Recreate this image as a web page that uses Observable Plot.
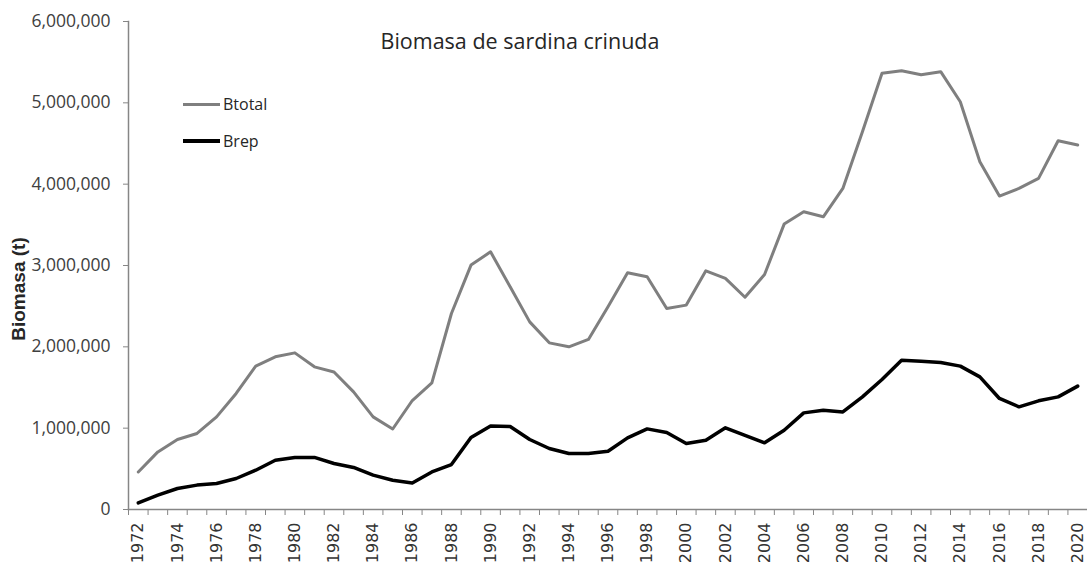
<!DOCTYPE html>
<html>
<head>
<meta charset="utf-8">
<script src="https://cdn.jsdelivr.net/npm/d3@7"></script>
<script src="https://cdn.jsdelivr.net/npm/@observablehq/plot@0.6"></script>
<style>
  html, body { margin: 0; padding: 0; background: #fff; overflow: hidden; }
  #wrap { position: relative; width: 1087px; height: 565px; overflow: hidden; }
  #title { position: absolute; left: 0; width: 1040px; top: 26px; text-align: center;
           font-family: "Open Sans", sans-serif; font-size: 21.5px; color: #262626; white-space: nowrap; }
  #ylabel { position: absolute; left: 19px; top: 289px; transform: translate(-50%, -50%) rotate(-90deg);
            font-family: "Liberation Sans", Arial, sans-serif; font-weight: bold; font-size: 19px; color: #262626; white-space: nowrap; }
  .leg { position: absolute; left: 183px; height: 16px; display: flex; align-items: center;
         font-family: "Open Sans", sans-serif; font-size: 16px; color: #262626; }
  .leg span.sw { display: inline-block; width: 37px; margin-right: 3px; }
  svg { overflow: hidden; }
</style>
</head>
<body>
<div id="wrap">
  <div id="chart"></div>
  <div id="title">Biomasa de sardina crinuda</div>
  <div id="ylabel">Biomasa (t)</div>
  <div id="legend"></div>
</div>
<script>
const years = [1972,1973,1974,1975,1976,1977,1978,1979,1980,1981,
               1982,1983,1984,1985,1986,1987,1988,1989,1990,1991,
               1992,1993,1994,1995,1996,1997,1998,1999,2000,2001,
               2002,2003,2004,2005,2006,2007,2008,2009,2010,2011,
               2012,2013,2014,2015,2016,2017,2018,2019,2020];

const btotal = [462000,708000,861000,935000,1139000,1427000,1763000,1877000,1926000,1754000,
                1690000,1446000,1139000,990000,1340000,1557000,2410000,3005000,3168000,2738000,
                2307000,2049000,2000000,2091000,2492000,2910000,2861000,2472000,2513000,2935000,
                2841000,2610000,2890000,3509000,3660000,3599000,3948000,4645000,5363000,5395000,
                5346000,5383000,5014000,4276000,3854000,3948000,4071000,4534000,4481000];

const brep = [81000,176000,258000,300000,320000,381000,483000,606000,640000,640000,
              566000,517000,422000,360000,327000,462000,553000,886000,1028000,1021000,
              861000,750000,689000,689000,717000,881000,991000,947000,812000,852000,
              1004000,910000,820000,975000,1188000,1221000,1200000,1385000,1599000,1836000,
              1824000,1808000,1763000,1631000,1365000,1262000,1336000,1385000,1517000];

const seriesNames = ["Btotal", "Brep"];
const seriesColors = ["#7f7f7f", "#000000"];
const seriesWidths = [3, 3.5];

const yTicks = [0, 1000000, 2000000, 3000000, 4000000, 5000000, 6000000];
const xLabelYears = [1972,1974,1976,1978,1980,1982,1984,1986,1988,1990,1992,1994,1996,1998,
                     2000,2002,2004,2006,2008,2010,2012,2014,2016,2018,2020];

const rowsTotal = years.map((y, i) => ({year: y, value: btotal[i]}));
const rowsRep = years.map((y, i) => ({year: y, value: brep[i]}));
const xEdges = years.map(y => y - 0.5).concat([years[years.length - 1] + 0.5]);

const axisGray = "#868686";

const chart = Plot.plot({
  width: 1087,
  height: 565,
  marginLeft: 128,
  marginRight: 0,
  marginTop: 21,
  marginBottom: 56,
  style: {background: "#fff", overflow: "hidden"},
  x: {type: "linear", domain: [years[0] - 0.5, years[years.length - 1] + 0.5]},
  y: {domain: [0, 6000000]},
  marks: [
    Plot.axisY({ticks: yTicks, tickFormat: d3.format(","), tickSize: 5, tickPadding: 13,
                label: null, color: "#404040", stroke: axisGray,
                fontFamily: "Open Sans", fontSize: 17.5}),
    Plot.axisX({ticks: xEdges, tickFormat: () => "", tickSize: 6, label: null, stroke: axisGray}),
    Plot.axisX({ticks: xLabelYears, tickFormat: d3.format("d"), tickSize: 0, tickPadding: 13,
                tickRotate: -90, label: null, color: "#333333",
                fontFamily: "DejaVu Sans", fontSize: 16}),
    Plot.frame({anchor: "left", stroke: axisGray, strokeWidth: 1.5}),
    Plot.frame({anchor: "bottom", stroke: axisGray, strokeWidth: 1.5}),
    Plot.line(rowsTotal, {x: "year", y: "value", stroke: seriesColors[0], strokeWidth: seriesWidths[0],
                          strokeLinejoin: "round"}),
    Plot.line(rowsRep, {x: "year", y: "value", stroke: seriesColors[1], strokeWidth: seriesWidths[1],
                        strokeLinejoin: "round"})
  ]
});
document.getElementById("chart").appendChild(chart);

const legend = document.getElementById("legend");
const legTops = [96, 133];
seriesNames.forEach((name, i) => {
  const d = document.createElement("div");
  d.className = "leg";
  d.style.top = legTops[i] + "px";
  const sw = document.createElement("span");
  sw.className = "sw";
  sw.style.height = seriesWidths[i] + "px";
  sw.style.background = seriesColors[i];
  d.appendChild(sw);
  d.appendChild(document.createTextNode(name));
  legend.appendChild(d);
});
</script>
</body>
</html>
